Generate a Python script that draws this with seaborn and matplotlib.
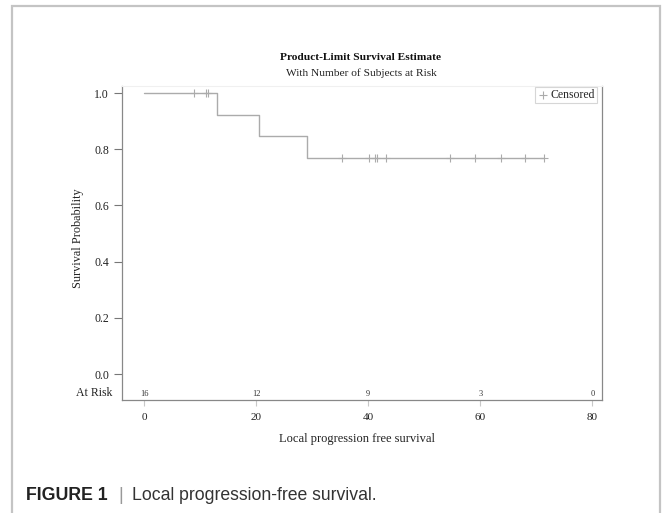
import numpy as np
import pandas as pd
import seaborn as sns
import matplotlib.pyplot as plt
from matplotlib.patches import Rectangle

# values
step_times = [0, 12.9, 20.4, 29.1, 71.4]
step_surv = [1.0, 0.923, 0.846, 0.769, 0.769]
cens_times = [8.9, 11.0, 11.4, 35.3, 40.1, 41.25, 41.5, 43.2, 54.5, 59.0, 63.7, 68.0, 71.4]
cens_surv = [1.0, 1.0, 1.0, 0.769, 0.769, 0.769, 0.769, 0.769, 0.769, 0.769, 0.769, 0.769, 0.769]
risk_times = [0, 20, 40, 60, 80]
risk_counts = [16, 12, 9, 3, 0]
y_ticks = [0.0, 0.2, 0.4, 0.6, 0.8, 1.0]

curve = pd.DataFrame({'time': step_times, 'surv': step_surv})
cens = pd.DataFrame({'time': cens_times, 'surv': cens_surv})

sns.set_style('white')
plt.rcParams['font.family'] = ['Liberation Serif', 'DejaVu Serif']

W, H = 662, 513
fig = plt.figure(figsize=(W/100, H/100), dpi=100)
ax = fig.add_axes([121.7/W, 1-400.3/H, 480/W, (400.3-86)/H])

line_c = '#ababab'
sns.lineplot(data=curve, x='time', y='surv', drawstyle='steps-post', color=line_c, lw=1.0, ax=ax)
sns.scatterplot(data=cens, x='time', y='surv', marker='+', color=line_c, s=30, linewidth=0.8,
                ax=ax, label='Censored', zorder=3)

ax.set_xlim(-4.04, 81.68)
ax.set_ylim(-0.0936, 1.025)
ax.set_xticks(risk_times)
ax.set_yticks(y_ticks)
ax.set_yticklabels([f'{v:.1f}' for v in y_ticks])
ax.tick_params(axis='x', length=4, color='#c8c8c8', labelsize=8, pad=5, labelcolor='#222222')
ax.tick_params(axis='y', length=6, color='#777777', labelsize=8.5, pad=3, labelcolor='#222222')
ax.tick_params(bottom=True, left=True)
ax.set_xlabel('')
ax.set_ylabel('')

for s in ['left', 'bottom', 'right']:
    ax.spines[s].set_color('#888888')
    ax.spines[s].set_linewidth(0.9)
ax.spines['top'].set_color('#f0f0f0')

# at-risk row
for t, n in zip(risk_times, risk_counts):
    ax.text(t, -0.072, str(n), fontsize=6, ha='center', va='center', color='#333333')
fig.text(112.7/W, 1-393/H, 'At Risk', fontsize=8.5, ha='right', va='center', color='#222222')

leg = ax.legend(loc='upper right', bbox_to_anchor=(597/W, 1-87/H), bbox_transform=fig.transFigure,
                fontsize=8.5, frameon=True, handletextpad=0.2, borderpad=0.15,
                handlelength=1.0, fancybox=False, borderaxespad=0)
leg.get_frame().set_edgecolor('#cccccc')
leg.get_frame().set_linewidth(0.8)

fig.text(357/W, 1-439/H, 'Local progression free survival', fontsize=9, ha='center', va='center',
         color='#222222')
fig.text(78/W, 1-238/H, 'Survival Probability', rotation=90, fontsize=8.8,
         ha='center', va='center', color='#222222')

fig.text(361/W, 1-58/H, 'Product-Limit Survival Estimate', fontsize=8.2, fontweight='bold',
         ha='center', va='center', color='#111111')
fig.text(361/W, 1-73/H, 'With Number of Subjects at Risk', fontsize=8.2,
         ha='center', va='center', color='#222222')

# outer frame of the figure panel
fig.patches.append(Rectangle((12/W, -0.05), (660-12)/W, 1.05-6/H, transform=fig.transFigure,
                             fill=False, edgecolor='#c4c4c4', linewidth=1.6))

fig.text(26/W, 1-496/H, 'FIGURE 1', fontsize=12.8, fontweight='bold', family='Liberation Sans',
         ha='left', va='center', color='#222222')
fig.text(118/W, 1-496/H, '|', fontsize=13, family='Liberation Sans',
         ha='left', va='center', color='#999999')
fig.text(132/W, 1-496/H, 'Local progression-free survival.', fontsize=12.7,
         family='Liberation Sans', ha='left', va='center', color='#333333')

fig.savefig('out.png', dpi=100, facecolor='white')
